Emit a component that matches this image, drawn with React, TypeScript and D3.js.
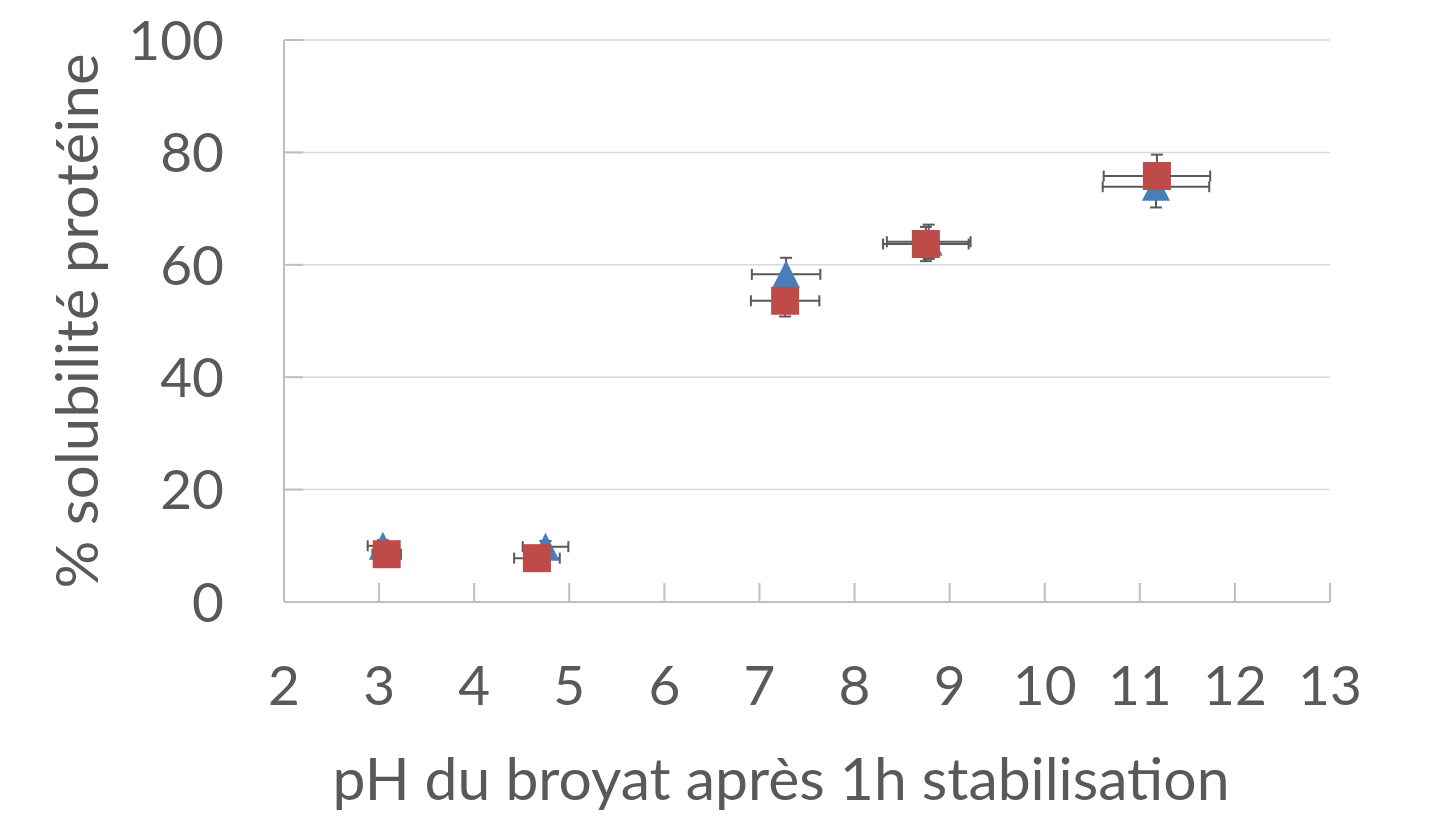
import React from 'react';
import * as d3 from 'd3';

// series A (blue triangles)
const phA = [3.04, 4.75, 7.28, 8.78, 11.17];
const solA = [10.0, 9.85, 58.3, 64.1, 73.9];
const phErrA = [0.16, 0.24, 0.36, 0.44, 0.56];
const solErrA = [1.0, 1.0, 2.95, 3.05, 3.7];

// series B (red squares)
const phB = [3.08, 4.66, 7.27, 8.75, 11.18];
const solB = [8.5, 7.8, 53.6, 63.7, 75.8];
const phErrB = [0.15, 0.24, 0.36, 0.45, 0.56];
const solErrB = [1.0, 1.0, 2.8, 3.05, 3.8];

const xTicks = [2, 3, 4, 5, 6, 7, 8, 9, 10, 11, 12, 13];
const yTicks = [0, 20, 40, 60, 80, 100];

const xTitle = 'pH du broyat après 1h stabilisation';
const yTitle = '% solubilité protéine';

const W = 1431;
const H = 816;
const FONT = 'Lato, "Open Sans", sans-serif';
const TEXT = '#595959';
const BLUE = '#4A7EBB';
const RED = '#BE4B48';
const ERR = '#595959';

const x = d3.scaleLinear().domain([2, 13]).range([284, 1330]);
const y = d3.scaleLinear().domain([0, 100]).range([602, 40]);

const MS = 28; // marker size

const ErrorBars = ({ xs, ys, xe, ye }: { xs: number[]; ys: number[]; xe: number[]; ye: number[] }) => (
  <g stroke={ERR} strokeWidth={2} fill="none">
    {xs.map((v, i) => {
      const cx = x(v);
      const cy = y(ys[i]);
      const x0 = x(v - xe[i]);
      const x1 = x(v + xe[i]);
      const y0 = y(ys[i] + ye[i]);
      const y1 = y(ys[i] - ye[i]);
      return (
        <g key={i}>
          <line x1={x0} x2={x1} y1={cy} y2={cy} />
          <line x1={x0} x2={x0} y1={cy - 5.5} y2={cy + 5.5} />
          <line x1={x1} x2={x1} y1={cy - 5.5} y2={cy + 5.5} />
          <line x1={cx} x2={cx} y1={y0} y2={y1} />
          <line x1={cx - 6} x2={cx + 6} y1={y0} y2={y0} />
          <line x1={cx - 6} x2={cx + 6} y1={y1} y2={y1} />
        </g>
      );
    })}
  </g>
);

const App = () => {
  const h = MS / 2;
  return (
    <svg width={W} height={H} style={{ position: 'absolute', left: 0, top: 0, background: '#fff' }}>
      {/* gridlines */}
      {yTicks.filter(t => t > 0).map(t => (
        <line key={t} x1={x(2)} x2={x(13)} y1={y(t)} y2={y(t)} stroke="#d9d9d9" strokeWidth={1.5} />
      ))}
      {/* axes */}
      <line x1={x(2)} x2={x(2)} y1={y(100)} y2={y(0)} stroke="#bfbfbf" strokeWidth={2} />
      <line x1={x(2)} x2={x(13)} y1={y(0)} y2={y(0)} stroke="#bfbfbf" strokeWidth={2} />
      {xTicks.map(t => (
        <line key={t} x1={x(t)} x2={x(t)} y1={y(0) - 19} y2={y(0)} stroke="#bfbfbf" strokeWidth={2} />
      ))}
      {yTicks.map(t => (
        <line key={t} x1={x(2)} x2={x(2) + 19} y1={y(t)} y2={y(t)} stroke="#bfbfbf" strokeWidth={2} />
      ))}

      {/* tick labels */}
      <g fill={TEXT} fontFamily={FONT} fontSize={55}>
        {yTicks.map(t => (
          <text key={t} x={224} y={y(t)} dy="0.36em" textAnchor="end">{t}</text>
        ))}
        {xTicks.map(t => (
          <text key={t} x={x(t)} y={705} textAnchor="middle">{t}</text>
        ))}
      </g>

      {/* axis titles */}
      <text x={781} y={800} textAnchor="middle" fill={TEXT} fontFamily={FONT} fontSize={59}
        textLength={897} lengthAdjust="spacingAndGlyphs">{xTitle}</text>
      <text
        transform={`translate(98, ${(y(0) + y(100)) / 2}) rotate(-90)`}
        textAnchor="middle"
        fill={TEXT}
        fontFamily={FONT}
        fontSize={59}
        textLength={535}
        lengthAdjust="spacingAndGlyphs"
      >
        {yTitle}
      </text>

      {/* error bars */}
      <ErrorBars xs={phA} ys={solA} xe={phErrA} ye={solErrA} />
      <ErrorBars xs={phB} ys={solB} xe={phErrB} ye={solErrB} />

      {/* markers */}
      {phA.map((v, i) => {
        const cx = x(v);
        const cy = y(solA[i]);
        return (
          <path key={i} d={`M${cx},${cy - h} L${cx + h},${cy + h} L${cx - h},${cy + h} Z`} fill={BLUE} />
        );
      })}
      {phB.map((v, i) => (
        <rect key={i} x={x(v) - h} y={y(solB[i]) - h} width={MS} height={MS} fill={RED} />
      ))}
    </svg>
  );
};

export default App;
